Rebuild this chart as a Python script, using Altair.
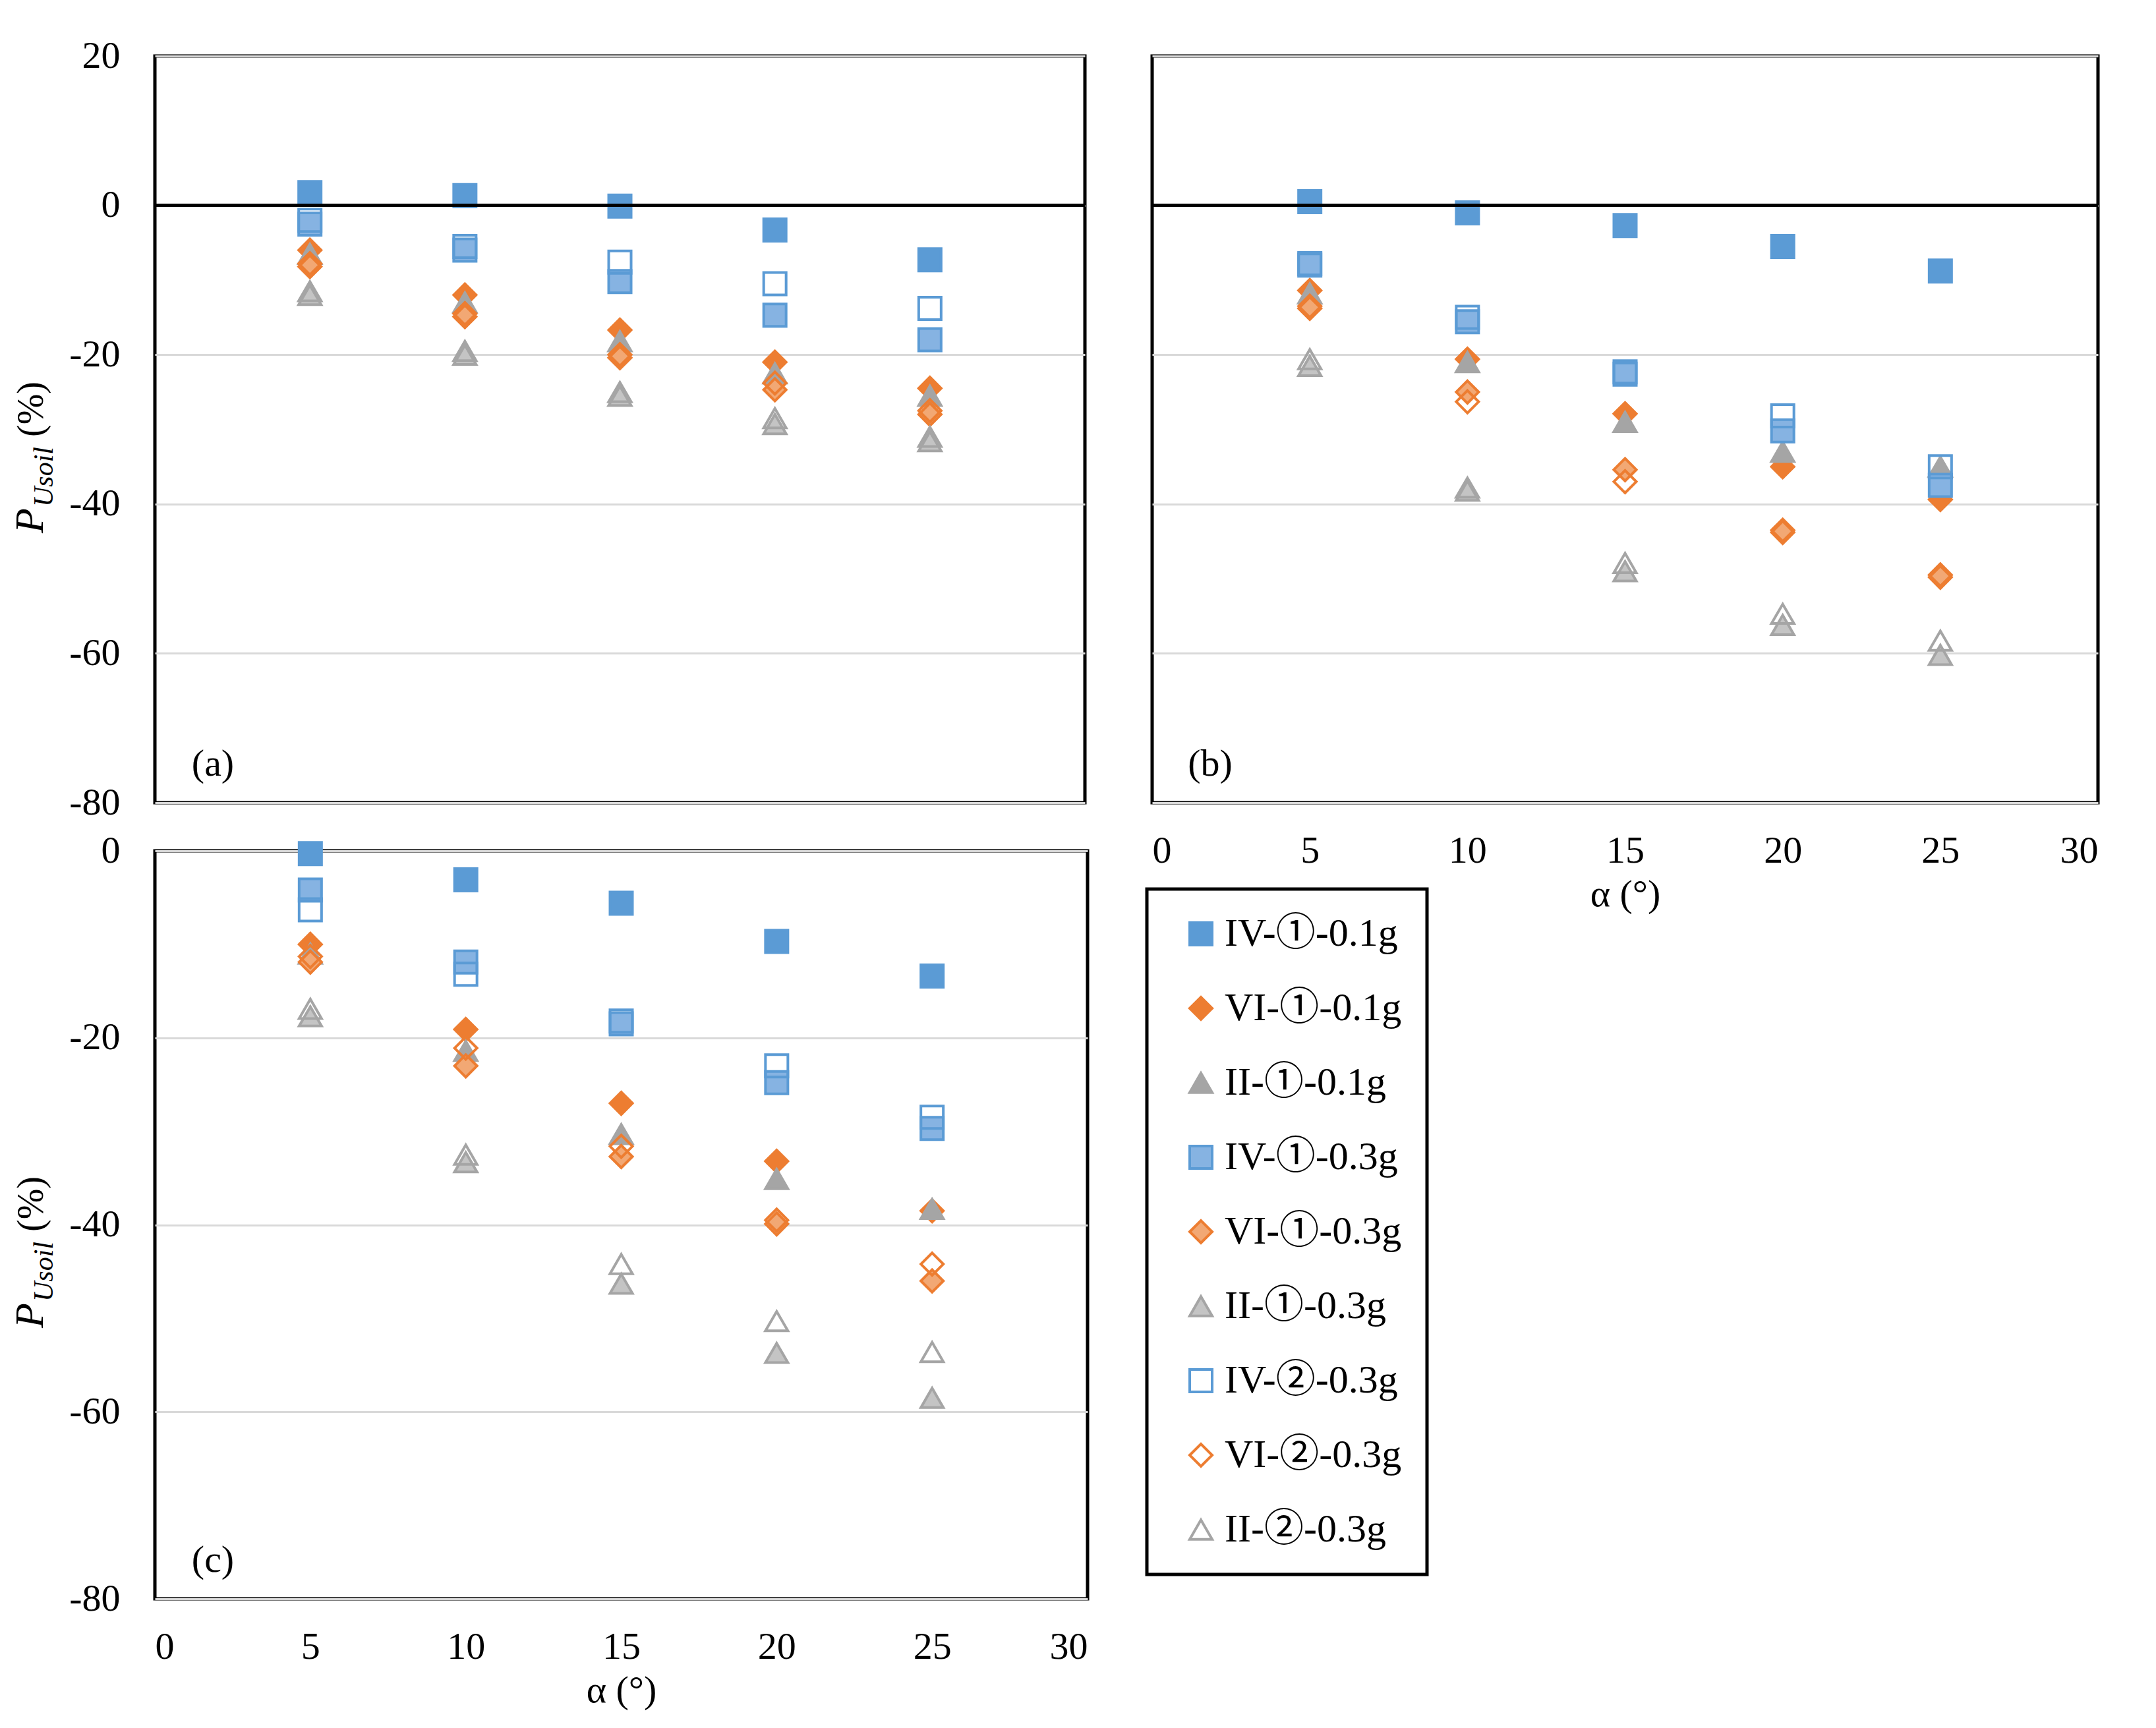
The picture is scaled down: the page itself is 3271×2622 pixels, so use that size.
import altair as alt
import pandas as pd

SERIF = "Liberation Serif"
LEGEND_FONT = "Liberation Serif, Noto Sans CJK JP"

alpha = [5, 10, 15, 20, 25]
series = ["IV-①-0.1g", "VI-①-0.1g", "II-①-0.1g",
          "IV-①-0.3g", "VI-①-0.3g", "II-①-0.3g",
          "IV-②-0.3g", "VI-②-0.3g", "II-②-0.3g"]

# panel (a)
a_iv1_01 = [1.7, 1.3, -0.1, -3.3, -7.3]
a_vi1_01 = [-6.0, -12.0, -16.7, -21.0, -24.5]
a_ii1_01 = [-6.5, -13.0, -18.2, -22.5, -25.5]
a_iv1_03 = [-2.5, -6.0, -10.2, -14.7, -18.0]
a_vi1_03 = [-8.2, -14.9, -20.4, -24.7, -28.0]
a_ii1_03 = [-12.0, -20.0, -25.5, -29.3, -31.6]
a_iv2_03 = [-2.0, -5.5, -7.6, -10.5, -13.8]
a_vi2_03 = [-7.8, -14.5, -20.0, -23.8, -27.5]
a_ii2_03 = [-11.5, -19.5, -25.0, -28.5, -31.0]

# panel (b)
b_iv1_01 = [0.5, -1.0, -2.7, -5.5, -8.8]
b_vi1_01 = [-11.4, -20.6, -27.9, -35.0, -39.4]
b_ii1_01 = [-11.8, -21.0, -29.0, -33.0, -35.0]
b_iv1_03 = [-8.0, -15.6, -22.6, -30.2, -37.5]
b_vi1_03 = [-13.8, -25.0, -35.4, -43.8, -49.8]
b_ii1_03 = [-21.5, -38.2, -49.0, -56.2, -60.2]
b_iv2_03 = [-7.8, -15.0, -22.3, -28.2, -35.0]
b_vi2_03 = [-13.5, -26.3, -37.0, -43.5, -49.5]
b_ii2_03 = [-20.6, -37.8, -47.9, -54.7, -58.3]

# panel (c)
c_iv1_01 = [-0.3, -3.1, -5.6, -9.7, -13.4]
c_vi1_01 = [-10.0, -19.1, -27.0, -33.2, -38.5]
c_ii1_01 = [-11.0, -21.4, -30.3, -35.1, -38.3]
c_iv1_03 = [-4.2, -11.9, -18.5, -24.8, -29.7]
c_vi1_03 = [-11.9, -23.0, -32.7, -39.9, -46.0]
c_ii1_03 = [-17.7, -33.3, -46.3, -53.7, -58.5]
c_iv2_03 = [-6.3, -13.2, -18.2, -23.0, -28.5]
c_vi2_03 = [-11.3, -21.1, -31.6, -39.5, -44.2]
c_ii2_03 = [-16.9, -32.5, -44.2, -50.3, -53.6]

# marker styles (Excel-like: solid, "patterned" drawn as a tint, hollow)
shapes = ["square", "diamond", "triangle-up"] * 3
fills = ["#5B9BD5", "#ED7D31", "#A5A5A5",
         "#86B3E2", "#F2A874", "#C4C4C4",
         "transparent", "transparent", "transparent"]
strokes = ["#5B9BD5", "#ED7D31", "#A5A5A5"] * 3


def panel_frame(cols):
    rows = []
    for name, vals in zip(series, cols):
        for x, v in zip(alpha, vals):
            rows.append({"alpha": x, "p": v, "series": name})
    return pd.DataFrame(rows)


legend = alt.Legend(title=None, orient="none", legendX=1505, legendY=1264,
                    direction="vertical", columns=1)


def panel(df, tag, width, height, ydom, show_x, show_y, zero_line):
    yvals = list(range(ydom[1], ydom[0] - 1, -20))
    if show_x:
        xax = alt.Axis(values=[0, 5, 10, 15, 20, 25, 30], grid=False, domain=False,
                       ticks=False, labelPadding=44, title="α (°)", titlePadding=8)
    else:
        xax = None
    yax = alt.Axis(values=yvals, grid=True, gridColor="#D9D9D9", gridWidth=3,
                   domain=False, ticks=False, labels=show_y, labelPadding=53, title=None,
                   labelExpr="replace(datum.label, '\u2212', '-')")

    points = alt.Chart(df).mark_point(filled=True, size=1156, strokeWidth=4, opacity=1).encode(
        x=alt.X("alpha:Q", scale=alt.Scale(domain=[0, 30], nice=False), axis=xax),
        y=alt.Y("p:Q", scale=alt.Scale(domain=ydom, nice=False), axis=yax),
        shape=alt.Shape("series:N", scale=alt.Scale(domain=series, range=shapes), legend=legend),
        fill=alt.Fill("series:N", scale=alt.Scale(domain=series, range=fills), legend=legend),
        stroke=alt.Stroke("series:N", scale=alt.Scale(domain=series, range=strokes), legend=legend),
    )
    layers = [points]

    if zero_line:
        zero = alt.Chart(pd.DataFrame({"p": [0]})).mark_rule(color="black", strokeWidth=5).encode(
            y="p:Q")
        layers.append(zero)

    label = alt.Chart(pd.DataFrame({"t": [tag]})).mark_text(
        font=SERIF, fontSize=58, color="black", align="center", baseline="middle"
    ).encode(text="t:N", x=alt.value(88), y=alt.value(height - 58))
    layers.append(label)

    if show_y:
        # y title: P with subscript Usoil, then (%)
        t_p = alt.Chart(pd.DataFrame({"t": ["P"]})).mark_text(
            font=SERIF, fontSize=62, fontStyle="italic", color="black",
            angle=270, align="left", baseline="alphabetic"
        ).encode(text="t:N", x=alt.value(-170), y=alt.value(724))
        t_sub = alt.Chart(pd.DataFrame({"t": ["Usoil"]})).mark_text(
            font=SERIF, fontSize=42, fontStyle="italic", color="black",
            angle=270, align="left", baseline="alphabetic"
        ).encode(text="t:N", x=alt.value(-155), y=alt.value(684))
        t_pct = alt.Chart(pd.DataFrame({"t": ["(%)"]})).mark_text(
            font=SERIF, fontSize=56, color="black",
            angle=270, align="left", baseline="alphabetic"
        ).encode(text="t:N", x=alt.value(-170), y=alt.value(578))
        layers += [t_p, t_sub, t_pct]

    return alt.layer(*layers).properties(width=width, height=height)


df_a = panel_frame([a_iv1_01, a_vi1_01, a_ii1_01, a_iv1_03, a_vi1_03, a_ii1_03,
                    a_iv2_03, a_vi2_03, a_ii2_03])
df_b = panel_frame([b_iv1_01, b_vi1_01, b_ii1_01, b_iv1_03, b_vi1_03, b_ii1_03,
                    b_iv2_03, b_vi2_03, b_ii2_03])
df_c = panel_frame([c_iv1_01, c_vi1_01, c_ii1_01, c_iv1_03, c_vi1_03, c_ii1_03,
                    c_iv2_03, c_vi2_03, c_ii2_03])

pa = panel(df_a, "(a)", 1411, 1133, [-80, 20], show_x=False, show_y=True, zero_line=True)
pb = panel(df_b, "(b)", 1435, 1133, [-80, 20], show_x=True, show_y=False, zero_line=True)
pc = panel(df_c, "(c)", 1415, 1135, [-80, 0], show_x=True, show_y=True, zero_line=False)

chart = alt.concat(
    pa, pb, pc, columns=2, spacing={"row": 73, "column": 98}, bounds="flush", align="each"
).properties(
    padding={"left": 4, "top": 45, "right": 10, "bottom": 10},
    background="white",
).configure_view(
    stroke="black", strokeWidth=5
).configure_axis(
    labelFont=SERIF, labelFontSize=58, labelColor="black",
    titleFont=SERIF, titleFontSize=58, titleColor="black", titleFontWeight="normal"
).configure_legend(
    labelFont=LEGEND_FONT, labelFontSize=60, labelColor="black", labelLimit=800,
    symbolSize=1156, symbolStrokeWidth=4, rowPadding=53, padding=38,
    symbolOffset=14, labelOffset=6, strokeColor="black", strokeWidth=5
)

chart.save("out.html", embed_options={"renderer": "svg", "actions": False})
